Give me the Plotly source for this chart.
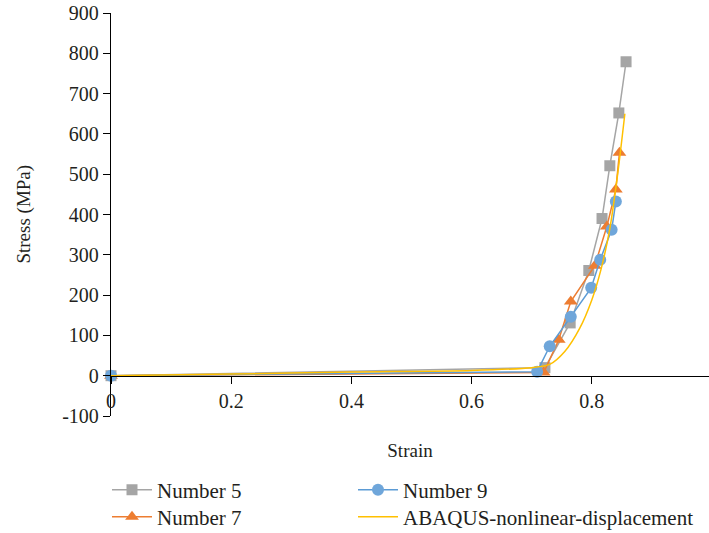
import plotly.graph_objects as go

# Measured stress-strain data for three specimens plus the FE prediction
strain_n5 = [0.0, 0.722, 0.764, 0.795, 0.817, 0.830, 0.845, 0.857]
stress_n5 = [0, 20, 131, 261, 390, 521, 652, 779]

strain_n7 = [0.0, 0.720, 0.745, 0.765, 0.805, 0.825, 0.840, 0.846]
stress_n7 = [0, 8, 89, 184, 273, 370, 462, 553]

strain_n9 = [0.0, 0.709, 0.730, 0.765, 0.799, 0.814, 0.833, 0.840]
stress_n9 = [0, 10, 73, 146, 218, 288, 362, 432]

strain_fe = [0.0, 0.2, 0.4, 0.6, 0.7, 0.73, 0.755, 0.78, 0.80, 0.815, 0.83, 0.843, 0.855]
stress_fe = [0, 4, 9, 13, 20, 28, 60, 118, 188, 262, 365, 500, 650]

y_ticks = [-100, 0, 100, 200, 300, 400, 500, 600, 700, 800, 900]
x_ticks = [0, 0.2, 0.4, 0.6, 0.8]

FONT = "Liberation Serif"
TXT = "#231f20"

fig = go.Figure()

fig.add_trace(go.Scatter(
    x=strain_n5, y=stress_n5, name="Number 5", mode="lines+markers",
    line=dict(color="#A5A5A5", width=1.5),
    marker=dict(symbol="square", size=11, color="#A5A5A5"),
    cliponaxis=False, legend="legend",
))
fig.add_trace(go.Scatter(
    x=strain_n7, y=stress_n7, name="Number 7", mode="lines+markers",
    line=dict(color="#ED7D31", width=1.5),
    marker=dict(symbol="triangle-up", size=12, color="#ED7D31"),
    cliponaxis=False, legend="legend2",
))
fig.add_trace(go.Scatter(
    x=strain_n9, y=stress_n9, name="Number 9", mode="lines+markers",
    line=dict(color="#5B9BD5", width=1.5),
    marker=dict(symbol="circle", size=12, color="#6FA6DA"),
    cliponaxis=False, legend="legend3",
))
fig.add_trace(go.Scatter(
    x=strain_fe, y=stress_fe, name="ABAQUS-nonlinear-displacement", mode="lines",
    line=dict(color="#FFC000", width=1.5, shape="spline", smoothing=0.8),
    cliponaxis=False, legend="legend4",
))


def legend_box(x_px, y_px):
    # one legend entry pinned at a pixel spot of the page
    return dict(
        xref="container", yref="container",
        x=x_px / 709, xanchor="left", y=1 - y_px / 533, yanchor="middle",
        itemwidth=40, font=dict(family=FONT, size=21, color=TXT),
        bgcolor="rgba(0,0,0,0)",
    )


fig.update_layout(
    width=709, height=533,
    margin=dict(l=111, r=0, t=13, b=117, autoexpand=False),
    paper_bgcolor="white", plot_bgcolor="white",
    font=dict(family=FONT, size=20, color=TXT),
    showlegend=True,
    legend=legend_box(107, 490),
    legend2=legend_box(107, 517),
    legend3=legend_box(353, 490),
    legend4=legend_box(353, 517),
    xaxis=dict(
        range=[0, 0.995], tickvals=x_ticks, ticktext=["0", "0.2", "0.4", "0.6", "0.8"],
        anchor="free", position=0.1,
        showline=True, linecolor="black", linewidth=1.3,
        ticks="outside", ticklen=7, tickcolor="black", tickwidth=1.3,
        showgrid=False, zeroline=False,
        tickfont=dict(family=FONT, size=20, color=TXT),
        title=dict(text="Strain", font=dict(family=FONT, size=19, color=TXT), standoff=32),
    ),
    yaxis=dict(
        range=[-100, 900], tickvals=y_ticks, ticktext=[str(v) for v in y_ticks],
        side="left",
        showline=True, linecolor="black", linewidth=1.3,
        ticks="outside", ticklen=7, tickcolor="black", tickwidth=1.3,
        showgrid=False, zeroline=False,
        tickfont=dict(family=FONT, size=20, color=TXT),
    ),
    annotations=[dict(
        text="Stress (MPa)", textangle=-90, showarrow=False,
        xref="paper", yref="paper", x=-0.147, y=0.5,
        xanchor="center", yanchor="middle",
        font=dict(family=FONT, size=19, color=TXT),
    )],
)

fig.write_html("out.html")
